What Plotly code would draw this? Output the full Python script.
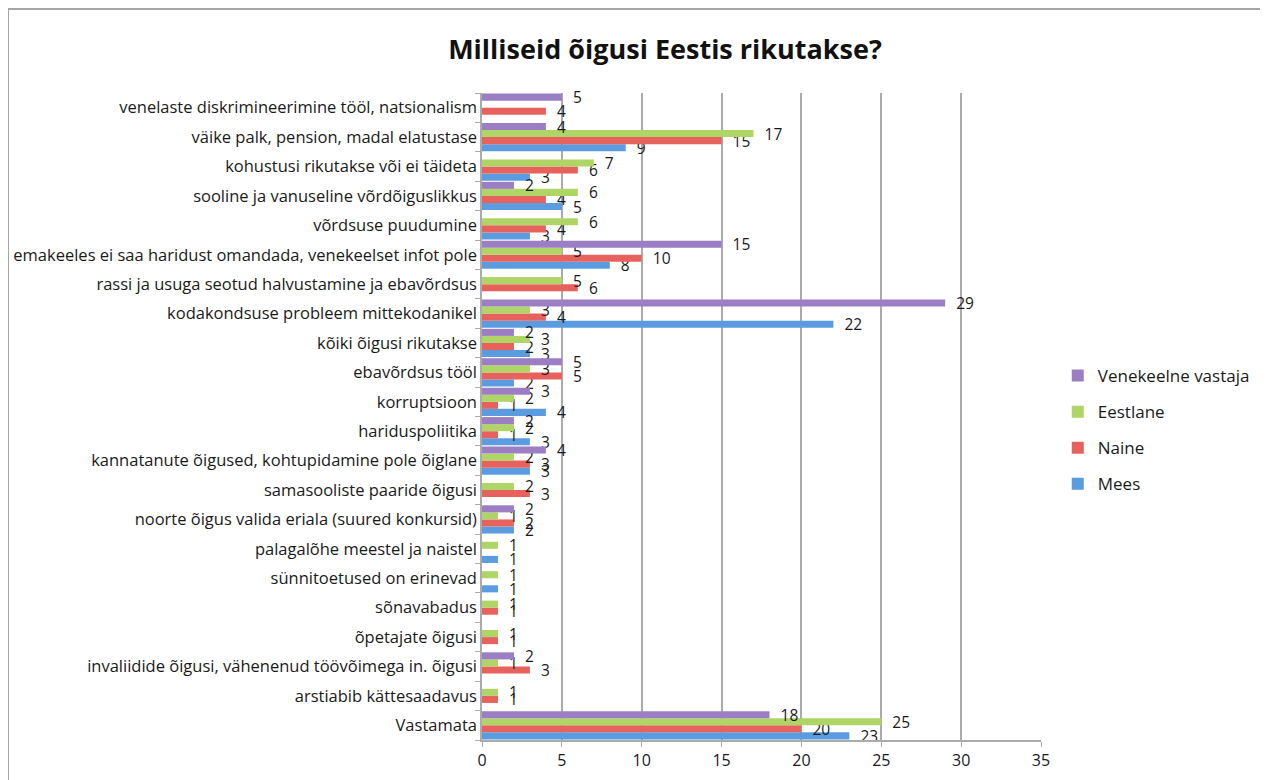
import plotly.graph_objects as go

categories = [
    "venelaste diskrimineerimine tööl, natsionalism",
    "väike palk, pension, madal elatustase",
    "kohustusi rikutakse või ei täideta",
    "sooline ja vanuseline võrdõiguslikkus",
    "võrdsuse puudumine",
    "emakeeles ei saa haridust omandada, venekeelset infot pole",
    "rassi ja usuga seotud halvustamine ja ebavõrdsus",
    "kodakondsuse probleem mittekodanikel",
    "kõiki õigusi rikutakse",
    "ebavõrdsus tööl",
    "korruptsioon",
    "hariduspoliitika",
    "kannatanute õigused, kohtupidamine pole õiglane",
    "samasooliste paaride õigusi",
    "noorte õigus valida eriala (suured konkursid)",
    "palagalõhe meestel ja naistel",
    "sünnitoetused on erinevad",
    "sõnavabadus",
    "õpetajate õigusi",
    "invaliidide õigusi, vähenenud töövõimega in. õigusi",
    "arstiabib kättesaadavus",
    "Vastamata",
]

venekeelne = [5, 4, None, 2, None, 15, None, 29, 2, 5, 3, 2, 4, None, 2, None, None, None, None, 2, None, 18]
eestlane = [None, 17, 7, 6, 6, 5, 5, 3, 3, 3, 2, 2, 2, 2, 1, 1, 1, 1, 1, 1, 1, 25]
naine = [4, 15, 6, 4, 4, 10, 6, 4, 2, 5, 1, 1, 3, 3, 2, None, None, 1, 1, 3, 1, 20]
mees = [None, 9, 3, 5, 3, 8, None, 22, 3, 2, 4, 3, 3, None, 2, 1, 1, None, None, None, None, 23]

series = [
    ("Mees", mees, "#5B9BE0", 4),
    ("Naine", naine, "#E8625D", 3),
    ("Eestlane", eestlane, "#AED565", 2),
    ("Venekeelne vastaja", venekeelne, "#9B7EC4", 1),
]

FONT = "Open Sans, Lato, sans-serif"
W, H = 1260, 772
ML, MT, MB = 474, 85, 40
PW = 559
MR = W - ML - PW
PH = H - MT - MB

fig = go.Figure()
for name, vals, color, rank in series:
    fig.add_trace(go.Bar(
        y=categories, x=vals, name=name, orientation="h",
        marker=dict(color=color, line=dict(width=0)),
        text=["" if v is None else "\u00a0\u00a0" + str(v) for v in vals],
        textposition="outside", constraintext="none", cliponaxis=False,
        textfont=dict(family=FONT, size=15.5, color="#1a1a1a"),
        legendgroup=name, legendrank=rank,
    ))

fig.update_layout(
    width=W, height=H,
    margin=dict(l=ML, r=MR, t=MT, b=MB, autoexpand=False),
    paper_bgcolor="white", plot_bgcolor="white",
    barmode="group", bargap=0.04, bargroupgap=0,
    font=dict(family=FONT, size=16, color="#1a1a1a"),
    title=dict(text="<b>Milliseid õigusi Eestis rikutakse?</b>",
               font=dict(size=27, color="#111"),
               x=(657 - ML) / PW, xref="paper", xanchor="center",
               y=1 - 42 / H, yref="container", yanchor="middle"),
    legend=dict(x=1.03, y=(H - MB - 422) / PH, xanchor="left", yanchor="middle",
                traceorder="grouped", tracegroupgap=11,
                font=dict(size=17), itemwidth=30),
    showlegend=True,
)

fig.update_xaxes(range=[0, 35], dtick=5, showgrid=True, gridcolor="#ABABAB", gridwidth=1.5,
                 showline=True, linecolor="#ABABAB", linewidth=1.5,
                 ticks="outside", ticklen=5, tickcolor="#ABABAB",
                 zeroline=False, tickfont=dict(size=16))
fig.update_yaxes(categoryorder="array", categoryarray=list(reversed(categories)),
                 showline=True, linecolor="#ABABAB", linewidth=1.5,
                 ticks="outside", ticklen=5, tickcolor="#ABABAB", tickson="boundaries",
                 showgrid=False, tickfont=dict(size=16.5))

# outer frame
fig.add_shape(type="rect", xref="paper", yref="paper",
              x0=(0 - ML) / PW, x1=(1258 - ML) / PW,
              y0=-(800 - (H - MB)) / PH, y1=((H - MB) - 1) / PH,
              line=dict(color="#A6A6A6", width=2), fillcolor="rgba(0,0,0,0)", layer="below")

fig.write_html("out.html")
